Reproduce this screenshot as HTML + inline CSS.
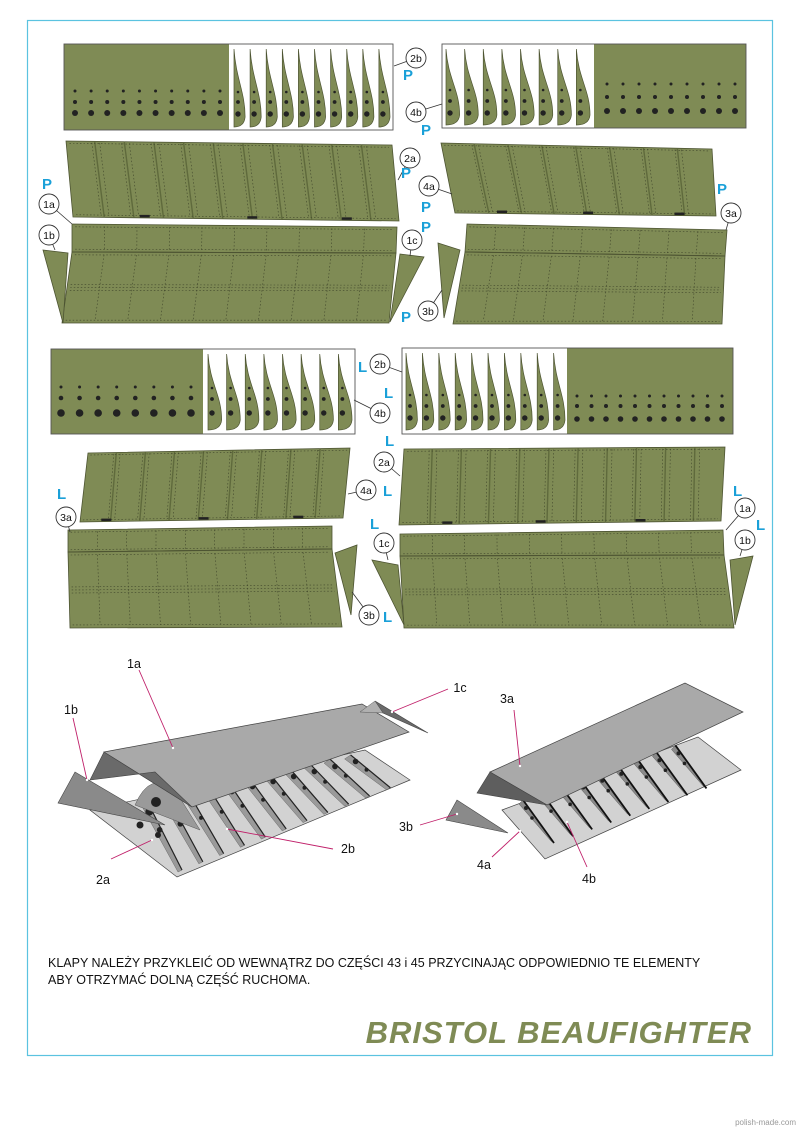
<!DOCTYPE html>
<html><head><meta charset="utf-8"><style>
html,body{margin:0;padding:0;background:#fff;}
svg{display:block;}
text{font-family:"Liberation Sans",sans-serif;}
</style></head><body>
<svg id="s" width="800" height="1131" viewBox="0 0 800 1131" xmlns="http://www.w3.org/2000/svg">
<rect x="27.5" y="20.5" width="745" height="1035" fill="none" stroke="#5bc3e0" stroke-width="1.2"/>
<g id="g"></g>
<text x="48" y="967" font-size="12.5" fill="#111">KLAPY NALEŻY PRZYKLEIĆ OD WEWNĄTRZ DO CZĘŚCI 43 i 45 PRZYCINAJĄC ODPOWIEDNIO TE ELEMENTY</text>
<text x="48" y="984" font-size="12.5" fill="#111">ABY OTRZYMAĆ DOLNĄ CZĘŚĆ RUCHOMA.</text>
<text x="752" y="1043" font-size="31" font-weight="bold" font-style="italic" fill="#7f8b55" text-anchor="end" letter-spacing="1">BRISTOL BEAUFIGHTER</text>
<text x="796" y="1125" font-size="8" fill="#999" text-anchor="end">polish-made.com</text>
</svg>
<script>
var O="#7f8b55",S="#4d5432",out="";
function P(pts,fill,st,sw){out+='<polygon points="'+pts.map(function(p){return p[0]+','+p[1]}).join(' ')+'" fill="'+fill+'" stroke="'+(st||S)+'" stroke-width="'+(sw||0.8)+'"/>';}
function L(a,b,c,w,d){out+='<line x1="'+a[0]+'" y1="'+a[1]+'" x2="'+b[0]+'" y2="'+b[1]+'" stroke="'+(c||S)+'" stroke-width="'+(w||0.8)+'"'+(d?' stroke-dasharray="'+d+'"':'')+'/>';}
function lp(a,b,t){return [a[0]+(b[0]-a[0])*t,a[1]+(b[1]-a[1])*t];}
function q(tl,tr,br,bl,u,v){return lp(lp(tl,tr,u),lp(bl,br,u),v);}
function C(x,y,r,f){out+='<circle cx="'+x+'" cy="'+y+'" r="'+r+'" fill="'+(f||"#222")+'"/>';}
function lab(x,y,t,lx,ly){if(lx!==undefined)L([x,y],[lx,ly],"#333",0.8);out+='<circle cx="'+x+'" cy="'+y+'" r="10" fill="#fff" stroke="#333" stroke-width="0.9"/><text x="'+x+'" y="'+(y+4)+'" font-size="10.5" text-anchor="middle" fill="#111">'+t+'</text>';}
function B(x,y,t){out+='<text x="'+x+'" y="'+y+'" font-size="15" font-weight="bold" fill="#1aa0d8">'+t+'</text>';}
function dots(x0,x1,n,ys,rs){for(var i=0;i<n;i++){var x=x0+(x1-x0)*i/(n-1);for(var j=0;j<3;j++)C(x,ys[j],rs[j]);}}
function ribs(x0,x1,n,y0,y1,dy){var w=(x1-x0)/n;for(var i=0;i<n;i++){var x=x0+i*w+3,rw=w-5;out+='<path d="M'+x+','+y0+' C'+(x+2)+','+(y0+30)+' '+(x+rw)+','+(y1-35)+' '+(x+rw)+','+(y1-10)+' Q'+(x+rw-1)+','+y1+' '+x+','+y1+' Z" fill="'+O+'" stroke="'+S+'" stroke-width="0.7"/>';C(x+4,dy[0],1.3);C(x+4,dy[1],1.9);C(x+4,dy[2],2.7);}}
function box(x,y,w,h){out+='<rect x="'+x+'" y="'+y+'" width="'+w+'" height="'+h+'" fill="none" stroke="#555" stroke-width="0.9"/>';}
function strips(tl,tr,br,bl,n,tabs){P([tl,tr,br,bl],O);for(var i=1;i<n;i++){var u=i/n;L(q(tl,tr,br,bl,u-0.003,0),q(tl,tr,br,bl,u+0.005,1),"#5f6a3c",1.4);L(q(tl,tr,br,bl,u-0.012,0.02),q(tl,tr,br,bl,u-0.004,0.98),"#3f452a",0.6,"1.5,2");L(q(tl,tr,br,bl,u+0.012,0.02),q(tl,tr,br,bl,u+0.02,0.98),"#3f452a",0.6,"1.5,2");}
L(q(tl,tr,br,bl,0.01,0.03),q(tl,tr,br,bl,0.99,0.03),"#3f452a",0.6,"1.5,2");L(q(tl,tr,br,bl,0.01,0.97),q(tl,tr,br,bl,0.99,0.97),"#3f452a",0.6,"1.5,2");
(tabs||[]).forEach(function(u){var p=q(tl,tr,br,bl,u,1);out+='<rect x="'+(p[0]-5)+'" y="'+(p[1]-3)+'" width="10" height="2.5" fill="#222"/>';});}
function flap(a,b,c,d,e,f,n){P([a,b,d,c],O);P([c,d,e,f],O);L(c,d,S,1);
var vs=[[0.1,0.9,a,b,d,c],[0.04,0.46,c,d,e,f],[0.54,0.96,c,d,e,f]];
vs.forEach(function(v){L(q(v[2],v[3],v[4],v[5],0.01,v[0]),q(v[2],v[3],v[4],v[5],0.99,v[0]),"#3f452a",0.6,"1.5,2");L(q(v[2],v[3],v[4],v[5],0.01,v[1]),q(v[2],v[3],v[4],v[5],0.99,v[1]),"#3f452a",0.6,"1.5,2");});
L(q(c,d,e,f,0.01,0.5),q(c,d,e,f,0.99,0.5),"#3f452a",0.6,"1.5,2");
for(var i=1;i<n;i++){var u=i/n;L(q(a,b,d,c,u,0.08),q(a,b,d,c,u,0.92),"#3f452a",0.6,"1.5,2");L(q(c,d,e,f,u,0.04),q(c,d,e,f,u,0.96),"#3f452a",0.6,"1.5,2");}}

/* ===== TOP GROUP (P) ===== */
out+='<rect x="64" y="44" width="165" height="86" fill="'+O+'"/>';box(64,44,329,86);
dots(75,220,10,[91,102,113],[1.5,2,3]);ribs(231,392,10,49,127,[92,102,114]);
out+='<rect x="594" y="44" width="152" height="84" fill="'+O+'"/>';box(442,44,304,84);
ribs(443,592,8,49,125,[90,101,113]);dots(607,735,9,[84,97,111],[1.5,2,3]);
strips([66,141],[392,145],[399,221],[73,217],11,[0.22,0.55,0.84]);
strips([441,143],[712,149],[716,216],[455,213],8,[0.18,0.51,0.86]);
flap([72,224],[397,227],[72,252],[396,253],[389,323],[62,323],10);
P([[43,250],[68,253],[63,323]],O);P([[400,254],[424,257],[390,322]],O);
flap([467,224],[727,230],[465,252],[725,256],[722,324],[453,324],9);
P([[438,243],[460,250],[444,318]],O);
lab(416,58,"2b",394,66);B(403,80,"P");lab(416,112,"4b",442,104);B(421,135,"P");
lab(410,158,"2a",398,180);B(401,178,"P");lab(429,186,"4a",452,194);B(421,212,"P");B(421,232,"P");
lab(49,204,"1a",72,224);B(42,189,"P");lab(49,235,"1b",55,250);lab(412,240,"1c",410,256);
lab(731,213,"3a",726,230);B(717,194,"P");lab(428,311,"3b",442,290);B(401,322,"P");

/* ===== MIDDLE GROUP (L) ===== */
out+='<rect x="51" y="349" width="152" height="85" fill="'+O+'"/>';box(51,349,304,85);
dots(61,191,8,[387,398,413],[1.5,2.3,3.8]);ribs(205,354,8,354,430,[388,399,413]);
out+='<rect x="567" y="348" width="166" height="86" fill="'+O+'"/>';box(402,348,331,86);
ribs(403,567,10,353,430,[395,406,418]);dots(577,722,11,[396,406,419],[1.5,2,2.8]);
strips([88,453],[350,448],[343,518],[80,522],9,[0.1,0.47,0.83]);
strips([404,449],[725,447],[721,521],[399,525],11,[0.15,0.44,0.75]);
flap([68,530],[332,526],[68,552],[332,549],[342,627],[70,628],9);
P([[335,553],[357,545],[351,615]],O);
flap([400,534],[723,530],[400,556],[724,555],[734,628],[404,628],10);
P([[372,560],[398,565],[404,625]],O);P([[730,560],[753,556],[735,625]],O);
lab(380,364,"2b",402,372);B(358,372,"L");lab(380,413,"4b",354,400);B(384,398,"L");
B(385,446,"L");lab(384,462,"2a",400,476);lab(366,490,"4a",348,494);B(383,496,"L");
lab(66,517,"3a",70,532);B(57,499,"L");lab(384,543,"1c",388,560);B(370,529,"L");
lab(369,615,"3b",352,592);B(383,622,"L");
lab(745,508,"1a",726,530);B(733,496,"L");lab(745,540,"1b",740,556);B(756,530,"L");

/* ===== ASSEMBLY LEFT ===== */
var LG="#d2d2d2",MG="#a9a9a9",RG="#9a9a9a";
P([[90,810],[365,750],[410,780],[177,877]],LG,"#444",0.7);
var n=11;
for(var i=0;i<n;i++){var t=i/(n-0.3);var T=lp([145,797],[365,752],t),Bt=lp([182,870],[405,782],t);
var W=[T[0]-6,T[1]+4];
P([T,Bt,[Bt[0]-4,Bt[1]+2],W],RG,"#555",0.4);
L(T,Bt,"#222",1.2);
var r=i<2?4:2.8;C(T[0]+ (Bt[0]-T[0])*0.2-3,T[1]+(Bt[1]-T[1])*0.2,r);C(T[0]+(Bt[0]-T[0])*0.45-2,T[1]+(Bt[1]-T[1])*0.45,r*0.7);}
out+='<path d="M135,805 Q150,770 175,790 L200,830 Z" fill="#9a9a9a" stroke="#555" stroke-width="0.5"/>';
C(156,802,5);C(140,825,3.5);C(158,835,3);
P([[104,752],[362,704],[409,732],[192,807]],MG,"#444",0.7);
P([[104,752],[90,780],[155,772],[192,807]],"#6a6a6a","#444",0.6);
P([[58,803],[75,772],[165,825]],"#8a8a8a","#444",0.6);
P([[375,701],[428,733],[383,713]],"#6a6a6a","#444",0.6);
P([[375,701],[383,713],[360,712]],"#b0b0b0","#444",0.4);
/* ===== ASSEMBLY RIGHT ===== */
P([[502,810],[698,737],[741,770],[545,859]],LG,"#444",0.7);
for(var i=0;i<9;i++){var T=lp([523,800],[685,742],i/8.5),Bt=[T[0]+31,T[1]+43];
P([T,[T[0]-4,T[1]+4],[Bt[0]-3,Bt[1]-2],Bt],"#8a8a8a","#444",0.4);
L(T,Bt,"#111",1.8);C(T[0]+3,T[1]+8,2);C(T[0]+9,T[1]+18,1.8);}
P([[490,772],[685,683],[743,712],[547,805]],MG,"#444",0.7);
P([[490,772],[477,793],[547,805]],"#5e5e5e","#444",0.6);
P([[457,800],[446,820],[508,833]],"#8a8a8a","#444",0.6);
/* leaders */
var PK="#c0206a";
function ld(a,b,t,tx,ty){L(a,b,PK,0.9);C(b[0],b[1],1.2,"#fff");out+='<text x="'+tx+'" y="'+ty+'" font-size="12.5" text-anchor="middle" fill="#111">'+t+'</text>';}
ld([139,670],[173,748],"1a",134,668);ld([73,718],[87,780],"1b",71,714);
ld([448,689],[392,712],"1c",460,692);ld([514,710],[520,766],"3a",507,703);
ld([111,859],[152,840],"2a",103,884);ld([333,849],[227,829],"2b",348,853);
ld([420,825],[457,814],"3b",406,831);ld([492,857],[520,831],"4a",484,869);
ld([587,867],[567,822],"4b",589,883);
document.getElementById("g").innerHTML=out;
</script>
</body></html>
